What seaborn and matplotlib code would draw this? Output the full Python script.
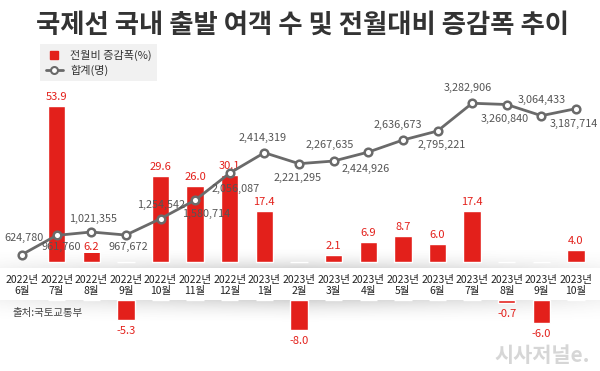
import numpy as np
import matplotlib
matplotlib.use("Agg")
import matplotlib.pyplot as plt
from matplotlib.lines import Line2D
import seaborn as sns

# ---- data ----
months = ["2022년\n6월", "2022년\n7월", "2022년\n8월", "2022년\n9월", "2022년\n10월",
          "2022년\n11월", "2022년\n12월", "2023년\n1월", "2023년\n2월", "2023년\n3월",
          "2023년\n4월", "2023년\n5월", "2023년\n6월", "2023년\n7월", "2023년\n8월",
          "2023년\n9월", "2023년\n10월"]
change = [np.nan, 53.9, 6.2, -5.3, 29.6, 26.0, 30.1, 17.4, -8.0, 2.1, 6.9, 8.7,
          6.0, 17.4, -0.7, -6.0, 4.0]
total = [624780, 961760, 1021355, 967672, 1254542, 1580714, 2056087, 2414319,
         2221295, 2267635, 2424926, 2636673, 2795221, 3282906, 3260840, 3064433,
         3187714]

# label offsets (pixels) for the total labels
label_off = [(2, 17), (5, -12), (2, 13), (2, -12), (1, 14), (11, -14), (6, -16),
             (-2, 15), (-1, -14), (-4, 16), (-3, -17), (-5, 15), (4, -14),
             (-4, 15), (-2, -14), (0, 16), (-2, -15)]

RED = "#e3201b"
GRAY = "#6a6a6a"
TXT = "#555555"

sns.set_style("white")
plt.rcParams['font.family'] = ['Noto Sans CJK KR', 'DejaVu Sans']

W, H = 600, 371
fig = plt.figure(figsize=(6, 3.71), dpi=100)


def box(x0, y0, x1, y1):
    # pixel box (top-left origin) -> figure fraction rect
    return [x0 / W, 1 - y1 / H, (x1 - x0) / W, (y1 - y0) / H]


x_lim = (-22 / 34.625, 16 + 24 / 34.625)

# background with the soft shadow round the date strip
bg = fig.add_axes([0, 0, 1, 1], zorder=0)
yy, xx = np.mgrid[0:H, 0:W]
alpha = np.zeros((H, W))
up = (yy >= 246) & (yy < 268)
alpha[up] = 0.26 * ((yy[up] - 246) / 22.0) ** 2
dn = (yy >= 300) & (yy < 324)
alpha[dn] = 0.26 * (1 - (yy[dn] - 300) / 24.0) ** 2
alpha *= np.clip(1 - np.abs(xx - 300) / 330.0, 0, 1) ** 0.6
img = np.zeros((H, W, 4))
img[..., :3] = 0.35
img[..., 3] = alpha
bg.imshow(img, extent=(0, W, H, 0), aspect="auto")
bg.set_xlim(0, W)
bg.set_ylim(H, 0)
bg.axis("off")

# top: positive bars
ax = fig.add_axes(box(0, 40, W, 267), zorder=2)
ax.patch.set_alpha(0)
sns.barplot(x=months, y=np.maximum(change, 0), color=RED, saturation=1,
            width=0.5, ax=ax)
ax.set_ylim(-5.5 / 2.89, 221.5 / 2.89)

# line of totals on a twin axis
axl = ax.twinx()
sns.pointplot(x=months, y=total, color=GRAY, ax=axl, markers="o",
              linewidth=2, markersize=5.5, markerfacecolor="white",
              markeredgewidth=1.8, markeredgecolor=GRAY)
axl.set_ylim(406300, 4394000)
for i, v in enumerate(total):
    axl.annotate(f"{v:,}", (i, v), xytext=label_off[i], textcoords="offset pixels",
                 ha="center", va="center", fontsize=7.8, color=TXT)

for i, v in enumerate(change):
    if np.isnan(v) or v < 0:
        continue
    if i == 2:
        ax.annotate(f"{v:.1f}", (i, v), xytext=(0, -3), textcoords="offset pixels",
                    ha="center", va="center", fontsize=8, color=RED,
                    bbox=dict(boxstyle="square,pad=0.1", fc="white", ec="none"))
    else:
        ax.annotate(f"{v:.1f}", (i, v), xytext=(0, 9), textcoords="offset pixels",
                    ha="center", va="center", fontsize=8, color=RED)

# bottom: negative bars
axn = fig.add_axes(box(0, 300, W, H), zorder=2)
axn.patch.set_alpha(0)
sns.barplot(x=months, y=np.minimum(change, 0), color=RED, saturation=1,
            width=0.5, ax=axn)
axn.set_ylim(-71 / 3.8, 0)
for i, v in enumerate(change):
    if v < 0:
        axn.annotate(f"{v:.1f}", (i, v), xytext=(0, -11), textcoords="offset pixels",
                     ha="center", va="center", fontsize=8, color=RED)

for a in (ax, axl, axn):
    a.set_xlim(*x_lim)
    a.set_xticks([])
    a.set_yticks([])
    a.set_xlabel("")
    a.set_ylabel("")
    for s in a.spines.values():
        s.set_visible(False)

# white date strip
band = fig.add_axes(box(0, 268, W, 300), zorder=3)
band.set_facecolor("white")
band.set_xlim(*x_lim)
band.set_ylim(0, 1)
band.set_xticks(range(len(months)))
band.set_xticklabels(months, fontsize=7.5, color="#222222", linespacing=1.1)
band.tick_params(axis="x", length=0, pad=-18)
band.set_yticks([])
for s in band.spines.values():
    s.set_visible(False)

# title, legend, source, watermark
fig.text(0.505, 1 - 25 / H, "국제선 국내 출발 여객 수 및 전월대비 증감폭 추이",
         ha="center", va="center", fontsize=19, fontweight="bold", color="#333333")

handles = [Line2D([], [], ls="", marker="s", ms=6, color=RED),
           Line2D([], [], color=GRAY, lw=2, marker="o", ms=5, mfc="white",
                  mec=GRAY, mew=1.5)]
leg = fig.legend(handles, ["전월비 증감폭(%)", "합계(명)"], loc="upper left",
                 bbox_to_anchor=(40 / W, 1 - 44 / H), borderaxespad=0,
                 fontsize=8, frameon=True, fancybox=False, handlelength=1.6,
                 handletextpad=0.6, labelspacing=0.35, borderpad=0.5)
leg.get_frame().set_facecolor("#eeeeee")
leg.get_frame().set_edgecolor("none")
leg.set_zorder(5)
for t in leg.get_texts():
    t.set_color("#333333")

fig.text(12 / W, 1 - 313 / H, "출처:국토교통부", ha="left", va="center",
         fontsize=7.5, color="#444444")
fig.text(590 / W, 1 - 355 / H, "시사저널e.", ha="right", va="center",
         fontsize=15, fontweight="bold", color="#d6d6d6")

fig.savefig("out.png", dpi=100)
